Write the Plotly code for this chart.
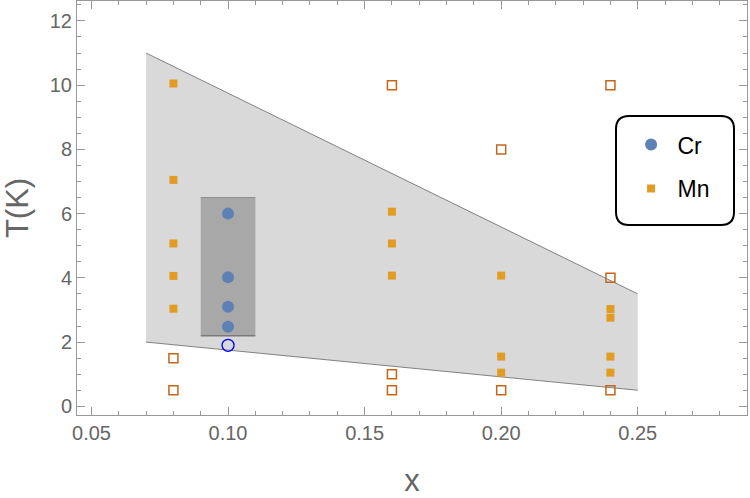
import plotly.graph_objects as go

# ---- data ----
region_x = [0.07, 0.25, 0.25, 0.07]
region_y = [11.0, 3.5, 0.5, 2.0]
rect_x = [0.09, 0.11, 0.11, 0.09]
rect_y = [6.5, 6.5, 2.2, 2.2]

cr_x = [0.10, 0.10, 0.10, 0.10]
cr_y = [6.0, 4.02, 3.1, 2.48]
cr_open_x = [0.10]
cr_open_y = [1.9]

mn_x = [0.08, 0.08, 0.08, 0.08, 0.08, 0.16, 0.16, 0.16, 0.20, 0.20, 0.20, 0.24, 0.24, 0.24, 0.24]
mn_y = [10.05, 7.05, 5.07, 4.06, 3.04, 6.06, 5.07, 4.07, 4.07, 1.55, 1.05, 3.03, 2.76, 1.55, 1.05]
mn_open_x = [0.08, 0.08, 0.16, 0.16, 0.16, 0.20, 0.20, 0.24, 0.24, 0.24]
mn_open_y = [1.5, 0.5, 10.0, 1.0, 0.5, 8.0, 0.5, 10.0, 4.0, 0.5]

x_ticks = [0.05, 0.10, 0.15, 0.20, 0.25]
x_ticklabels = ["0.05", "0.10", "0.15", "0.20", "0.25"]
y_ticks = [0, 2, 4, 6, 8, 10, 12]

FONT = "Liberation Sans"
CR_COLOR = "#5E81B5"
MN_COLOR = "#E19C24"
MN_OPEN = "#C4661C"

fig = go.Figure()

# light gray region
fig.add_trace(go.Scatter(x=region_x + [region_x[0]], y=region_y + [region_y[0]],
                         fill="toself", fillcolor="#D9D9D9", mode="none",
                         showlegend=False, hoverinfo="skip"))
# region edges (top and bottom)
fig.add_trace(go.Scatter(x=region_x[0:2], y=region_y[0:2], mode="lines",
                         line=dict(color="#666666", width=0.8), showlegend=False, hoverinfo="skip"))
fig.add_trace(go.Scatter(x=region_x[2:4], y=region_y[2:4], mode="lines",
                         line=dict(color="#666666", width=0.8), showlegend=False, hoverinfo="skip"))
# dark rectangle
fig.add_trace(go.Scatter(x=rect_x + [rect_x[0]], y=rect_y + [rect_y[0]],
                         fill="toself", fillcolor="#A8A8A8", mode="none",
                         showlegend=False, hoverinfo="skip"))
fig.add_trace(go.Scatter(x=rect_x[0:2], y=rect_y[0:2], mode="lines",
                         line=dict(color="#8E8E8E", width=1), showlegend=False, hoverinfo="skip"))
fig.add_trace(go.Scatter(x=rect_x[2:4], y=rect_y[2:4], mode="lines",
                         line=dict(color="#7A7A7A", width=1.5), showlegend=False, hoverinfo="skip"))

# open markers
fig.add_trace(go.Scatter(x=mn_open_x, y=mn_open_y, mode="markers",
                         marker=dict(symbol="square-open", size=9, color=MN_OPEN,
                                     line=dict(width=1.5, color=MN_OPEN)),
                         showlegend=False))
fig.add_trace(go.Scatter(x=cr_open_x, y=cr_open_y, mode="markers",
                         marker=dict(symbol="circle-open", size=12, color="#0000FF",
                                     line=dict(width=1.3, color="#0000FF")),
                         showlegend=False))

# filled markers
fig.add_trace(go.Scatter(x=cr_x, y=cr_y, mode="markers", name="\u00a0Cr", legendgroup="cr",
                         marker=dict(symbol="circle", size=12, color=CR_COLOR, line=dict(width=0))))
fig.add_trace(go.Scatter(x=mn_x, y=mn_y, mode="markers", name="\u00a0Mn", legendgroup="mn",
                         marker=dict(symbol="square", size=8, color=MN_COLOR, line=dict(width=0))))

axis_common = dict(
    showline=True, linecolor="#999999", linewidth=1, mirror="allticks",
    ticks="inside", ticklen=8, tickwidth=1, tickcolor="#999999",
    showgrid=False, zeroline=False,
    tickfont=dict(family=FONT, size=20, color="#666666"),
)

fig.update_layout(
    width=750, height=498,
    margin=dict(l=77, r=3, t=1, b=83),
    paper_bgcolor="white", plot_bgcolor="white",
    font=dict(family=FONT),
    xaxis=dict(range=[0.0447, 0.290], tickvals=x_ticks, ticktext=x_ticklabels,
               minor=dict(dtick=0.01, ticks="inside", ticklen=4, tickcolor="#999999", tick0=0.0),
               title=dict(text="x", font=dict(family=FONT, size=31, color="#666666"), standoff=26),
               **axis_common),
    yaxis=dict(range=[-0.27, 12.62], tickvals=y_ticks,
               minor=dict(dtick=0.5, ticks="inside", ticklen=4, tickcolor="#999999", tick0=0),
               title=dict(text="T(K)", font=dict(family=FONT, size=31, color="#666666"), standoff=15),
               **axis_common),
    legend=dict(x=0.827, y=0.705, xanchor="left", yanchor="top",
                bgcolor="rgba(0,0,0,0)", borderwidth=0,
                font=dict(family=FONT, size=23, color="black"),
                tracegroupgap=11, itemsizing="trace"),
)

# rounded legend frame
x0, x1 = (616 - 77) / 670, (734 - 77) / 670
y1, y0 = 1 - (116 - 1) / 414, 1 - (225 - 1) / 414
rx, ry = 13 / 670, 13 / 414
path = (f"M {x0+rx},{y1} L {x1-rx},{y1} Q {x1},{y1} {x1},{y1-ry} "
        f"L {x1},{y0+ry} Q {x1},{y0} {x1-rx},{y0} L {x0+rx},{y0} "
        f"Q {x0},{y0} {x0},{y0+ry} L {x0},{y1-ry} Q {x0},{y1} {x0+rx},{y1} Z")
fig.add_shape(type="path", path=path, xref="paper", yref="paper",
              line=dict(color="black", width=2), fillcolor="white", layer="above")

fig.write_html("out.html")
